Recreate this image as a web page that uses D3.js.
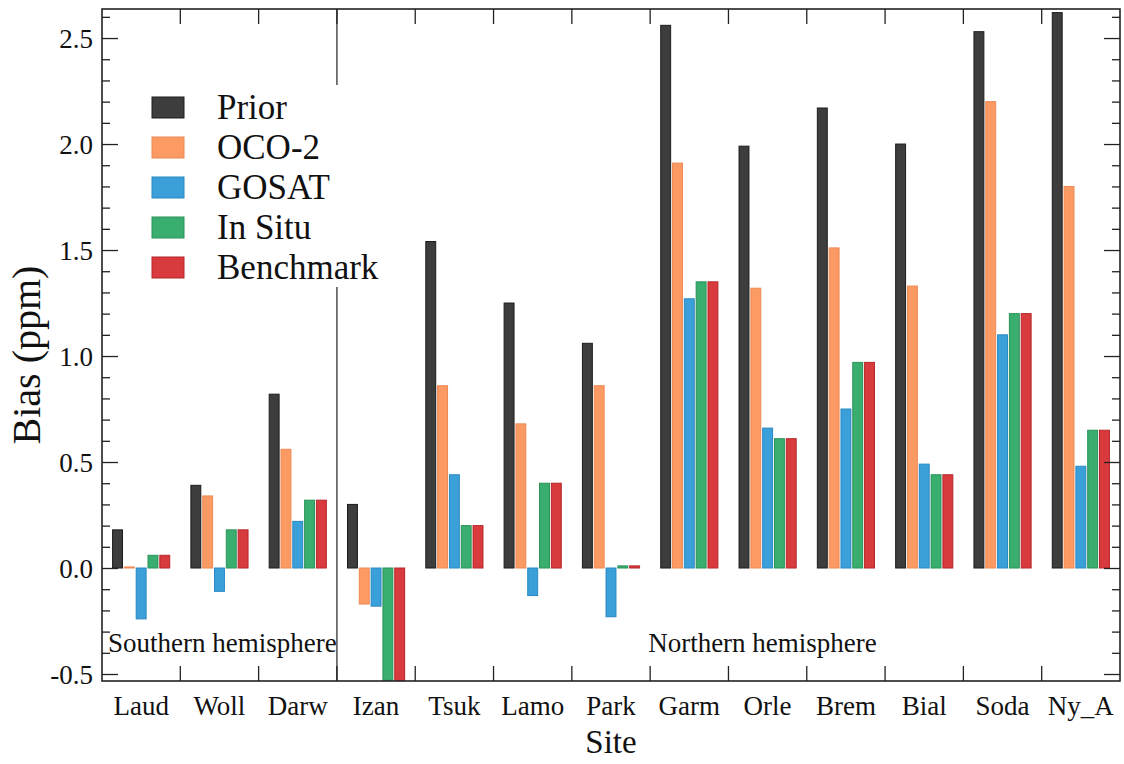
<!DOCTYPE html>
<html>
<head>
<meta charset="utf-8">
<script src="https://cdn.jsdelivr.net/npm/d3@7"></script>
<style>
  body { margin: 0; background: #fff; }
  text { font-family: "Liberation Serif", "Times New Roman", serif; fill: #111; }
</style>
</head>
<body>
<div id="chart"></div>
<script>
var sites = ["Laud", "Woll", "Darw", "Izan", "Tsuk", "Lamo", "Park", "Garm", "Orle", "Brem", "Bial", "Soda", "Ny_A"];
var seriesNames = ["Prior", "OCO-2", "GOSAT", "In Situ", "Benchmark"];

var prior     = [0.18, 0.39, 0.82, 0.30, 1.54, 1.25, 1.06, 2.56, 1.99, 2.17, 2.00, 2.53, 2.62];
var oco2      = [0.005, 0.34, 0.56, -0.17, 0.86, 0.68, 0.86, 1.91, 1.32, 1.51, 1.33, 2.20, 1.80];
var gosat     = [-0.24, -0.11, 0.22, -0.18, 0.44, -0.13, -0.23, 1.27, 0.66, 0.75, 0.49, 1.10, 0.48];
var inSitu    = [0.06, 0.18, 0.32, -0.53, 0.20, 0.40, 0.01, 1.35, 0.61, 0.97, 0.44, 1.20, 0.65];
var benchmark = [0.06, 0.18, 0.32, -0.53, 0.20, 0.40, 0.01, 1.35, 0.61, 0.97, 0.44, 1.20, 0.65];

var yTicks = [-0.5, 0.0, 0.5, 1.0, 1.5, 2.0, 2.5];
var regions = ["Southern hemisphere", "Northern hemisphere"];

var fills   = ["#3d3d3d", "#fc9a64", "#3ba0da", "#3aae6e", "#d93a3d"];
var strokes = ["#1c1c1c", "#ee8a55", "#2a88c2", "#2a9259", "#b4272b"];

var allSeries = [prior, oco2, gosat, inSitu, benchmark];

var svg = d3.select("#chart").append("svg").attr("width", 1124).attr("height", 764),
    margin = {top: 9, right: 4, bottom: 83, left: 102},
    width = +svg.attr("width") - margin.left - margin.right,
    height = +svg.attr("height") - margin.top - margin.bottom,
    g = svg.append("g").attr("transform", "translate(" + margin.left + "," + margin.top + ")");

var x = d3.scaleBand().domain(sites).range([0, width]).padding(0);
var xs = d3.scaleBand().domain(seriesNames).range([x.bandwidth() * 0.135, x.bandwidth() * 0.865]).paddingInner(0.16);
var y = d3.scaleLinear().domain([-0.533, 2.637]).range([height, 0]);

var rows = [];
sites.forEach(function(s, i) {
  seriesNames.forEach(function(n, j) {
    rows.push({site: s, name: n, k: j, value: allSeries[j][i]});
  });
});

// divider between hemispheres (sits under the legend box)
var divX = x("Izan");
g.append("line")
  .attr("x1", divX).attr("x2", divX)
  .attr("y1", 0).attr("y2", height)
  .attr("stroke", "#222").attr("stroke-width", 1.2);

g.selectAll(".bar")
  .data(rows)
  .enter().append("rect")
  .attr("class", "bar")
  .attr("x", function(d) { return x(d.site) + xs(d.name); })
  .attr("width", xs.bandwidth())
  .attr("y", function(d) { return y(Math.max(0, d.value)); })
  .attr("height", function(d) { return Math.max(1, Math.abs(y(d.value) - y(0))); })
  .attr("fill", function(d) { return fills[d.k]; })
  .attr("stroke", function(d) { return strokes[d.k]; })
  .attr("stroke-width", 1);

// y axes, ticks pointing inward
var minor = d3.range(-5, 27).map(function(v) { return v / 10; }).filter(function(v) { return yTicks.indexOf(v) < 0; });

g.append("g")
  .call(d3.axisRight(y).tickValues(minor).tickSize(8).tickFormat(""))
  .call(function(a) { a.select(".domain").remove(); });
g.append("g")
  .call(d3.axisRight(y).tickValues(yTicks).tickSize(16).tickFormat(""))
  .call(function(a) { a.select(".domain").remove(); });
g.append("g")
  .attr("transform", "translate(" + width + ",0)")
  .call(d3.axisLeft(y).tickValues(minor).tickSize(8).tickFormat(""))
  .call(function(a) { a.select(".domain").remove(); });
g.append("g")
  .attr("transform", "translate(" + width + ",0)")
  .call(d3.axisLeft(y).tickValues(yTicks).tickSize(16).tickFormat(""))
  .call(function(a) { a.select(".domain").remove(); });

g.selectAll(".ylab")
  .data(yTicks)
  .enter().append("text")
  .attr("class", "ylab")
  .attr("x", -9)
  .attr("y", function(d) { return y(d); })
  .attr("dy", "0.36em")
  .attr("font-size", "27px")
  .style("text-anchor", "end")
  .text(function(d) { return d.toFixed(1); });

// x ticks at category boundaries, top and bottom
var bounds = sites.slice(1);
g.append("g")
  .attr("transform", "translate(" + (-x.bandwidth() / 2) + "," + height + ")")
  .call(d3.axisTop(x).tickValues(bounds).tickSize(15).tickFormat(""))
  .call(function(a) { a.select(".domain").remove(); });
g.append("g")
  .attr("transform", "translate(" + (-x.bandwidth() / 2) + ",0)")
  .call(d3.axisBottom(x).tickValues(bounds).tickSize(15).tickFormat(""))
  .call(function(a) { a.select(".domain").remove(); });

g.selectAll(".tick line").attr("stroke", "#222").attr("stroke-width", 1.3);

g.selectAll(".xlab")
  .data(sites)
  .enter().append("text")
  .attr("class", "xlab")
  .attr("x", function(d) { return x(d) + x.bandwidth() / 2; })
  .attr("y", height + 34)
  .attr("font-size", "27px")
  .style("text-anchor", "middle")
  .text(function(d) { return d; });

// frame
g.append("rect")
  .attr("width", width).attr("height", height)
  .attr("fill", "none").attr("stroke", "#222").attr("stroke-width", 1.6);

// hemisphere labels
g.append("text")
  .attr("x", 6).attr("y", y(-0.395))
  .attr("font-size", "27px")
  .text(regions[0]);
g.append("text")
  .attr("x", x("Garm") - 2).attr("y", y(-0.395))
  .attr("font-size", "27px")
  .text(regions[1]);

// legend
var leg = g.append("g").attr("transform", "translate(50,88)");
leg.append("rect")
  .attr("x", -12).attr("y", -12)
  .attr("width", 280).attr("height", 202)
  .attr("fill", "#fff");
var item = leg.selectAll(".leg")
  .data(seriesNames)
  .enter().append("g")
  .attr("class", "leg")
  .attr("transform", function(d, i) { return "translate(0," + i * 40 + ")"; });
item.append("rect")
  .attr("width", 32).attr("height", 21)
  .attr("fill", function(d, i) { return fills[i]; })
  .attr("stroke", function(d, i) { return strokes[i]; })
  .attr("stroke-width", 1);
item.append("text")
  .attr("x", 65).attr("y", 22)
  .attr("font-size", "35px")
  .text(function(d) { return d; });

// axis titles
svg.append("text")
  .attr("transform", "translate(40," + (margin.top + height / 2 + 10) + ") rotate(-90)")
  .attr("font-size", "40px")
  .style("text-anchor", "middle")
  .text("Bias (ppm)");
svg.append("text")
  .attr("x", margin.left + width / 2)
  .attr("y", 753)
  .attr("font-size", "33px")
  .style("text-anchor", "middle")
  .text("Site");
</script>
</body>
</html>
